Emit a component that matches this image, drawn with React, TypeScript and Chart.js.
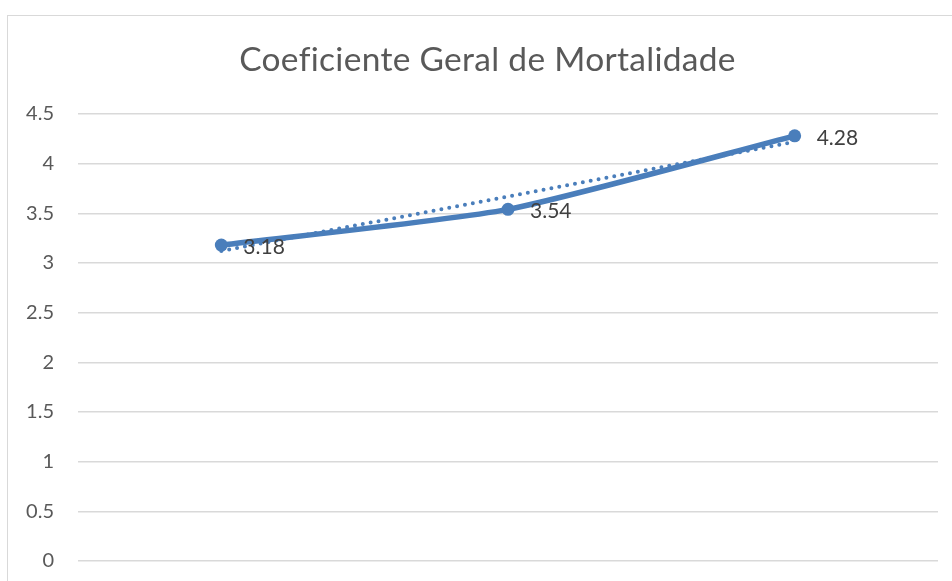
import React, { useEffect, useRef } from "react";
import { Chart, registerables } from "chart.js";

Chart.register(...registerables);

const categories = ["1", "2", "3"];
const mortalityValues = [3.18, 3.54, 4.28];
const trendValues = [3.12, 3.67, 4.22];
const yTickLabels = ["0", "0.5", "1", "1.5", "2", "2.5", "3", "3.5", "4", "4.5"];
const chartTitle = "Coeficiente Geral de Mortalidade";

const FONT = "Lato, 'Open Sans', sans-serif";
const LINE_COLOR = "#4a7ebb";

const titlePlugin = {
  id: "customTitle",
  afterDraw(chart: any) {
    const ctx = chart.ctx;
    ctx.save();
    ctx.letterSpacing = "0.3px";
    ctx.font = `33.5px ${FONT}`;
    ctx.fillStyle = "#595959";
    ctx.textAlign = "center";
    ctx.textBaseline = "alphabetic";
    ctx.fillText(chartTitle, 487.5, 71);
    ctx.restore();
  },
};

const labelPlugin = {
  id: "valueLabels",
  afterDatasetsDraw(chart: any) {
    const meta = chart.getDatasetMeta(0);
    const ctx = chart.ctx;
    ctx.save();
    ctx.font = `21px ${FONT}`;
    ctx.fillStyle = "#404040";
    ctx.textAlign = "left";
    ctx.textBaseline = "middle";
    meta.data.forEach((pt: any, i: number) => {
      ctx.fillText(String(mortalityValues[i]), pt.x + 22, pt.y + 2);
    });
    ctx.restore();
  },
};

export default function App() {
  const ref = useRef<HTMLCanvasElement | null>(null);
  useEffect(() => {
    if (!ref.current) return;
    const chart = new Chart(ref.current, {
      type: "line",
      data: {
        labels: categories,
        datasets: [
          {
            label: "Coeficiente",
            data: mortalityValues,
            borderColor: LINE_COLOR,
            backgroundColor: LINE_COLOR,
            borderWidth: 5.5,
            pointRadius: 6.5,
            pointBorderWidth: 0,
            pointBackgroundColor: LINE_COLOR,
            tension: 0.2,
            order: 1,
          },
          {
            label: "Tendência",
            data: trendValues,
            borderColor: LINE_COLOR,
            borderWidth: 4,
            borderDash: [0, 8],
            borderCapStyle: "round",
            pointRadius: 0,
            tension: 0,
            order: 0,
          },
        ],
      },
      options: {
        animation: false,
        responsive: false,
        maintainAspectRatio: false,
        layout: { padding: { left: 0, right: 14, top: 114, bottom: 20 } },
        plugins: {
          legend: { display: false },
          tooltip: { enabled: false },
          title: { display: false },
        },
        scales: {
          x: {
            display: false,
            offset: true,
          },
          y: {
            min: 0,
            max: 4.5,
            afterFit: (scale: any) => {
              scale.width = 78;
              scale.paddingTop = 0;
              scale.paddingBottom = 0;
            },
            border: { display: false },
            grid: { color: "#d9d9d9", lineWidth: 1.5, drawTicks: false },
            ticks: {
              stepSize: 0.5,
              padding: 24,
              color: "#595959",
              font: { family: FONT, size: 20 },
              callback: (_v: any, i: number) => yTickLabels[i],
            },
          },
        },
      },
      plugins: [titlePlugin, labelPlugin],
    });
    return () => chart.destroy();
  }, []);

  return (
    <div
      style={{
        position: "fixed",
        left: 0,
        top: 0,
        width: 952,
        height: 581,
        overflow: "hidden",
        background: "#ffffff",
      }}
    >
      <div
        style={{
          position: "absolute",
          left: 7,
          top: 15,
          width: 1000,
          height: 700,
          borderLeft: "1.5px solid #d9d9d9",
          borderTop: "1.5px solid #d9d9d9",
        }}
      />
      <canvas
        ref={ref}
        width={952}
        height={581}
        style={{ position: "absolute", left: 0, top: 0, width: 952, height: 581 }}
      />
    </div>
  );
}
